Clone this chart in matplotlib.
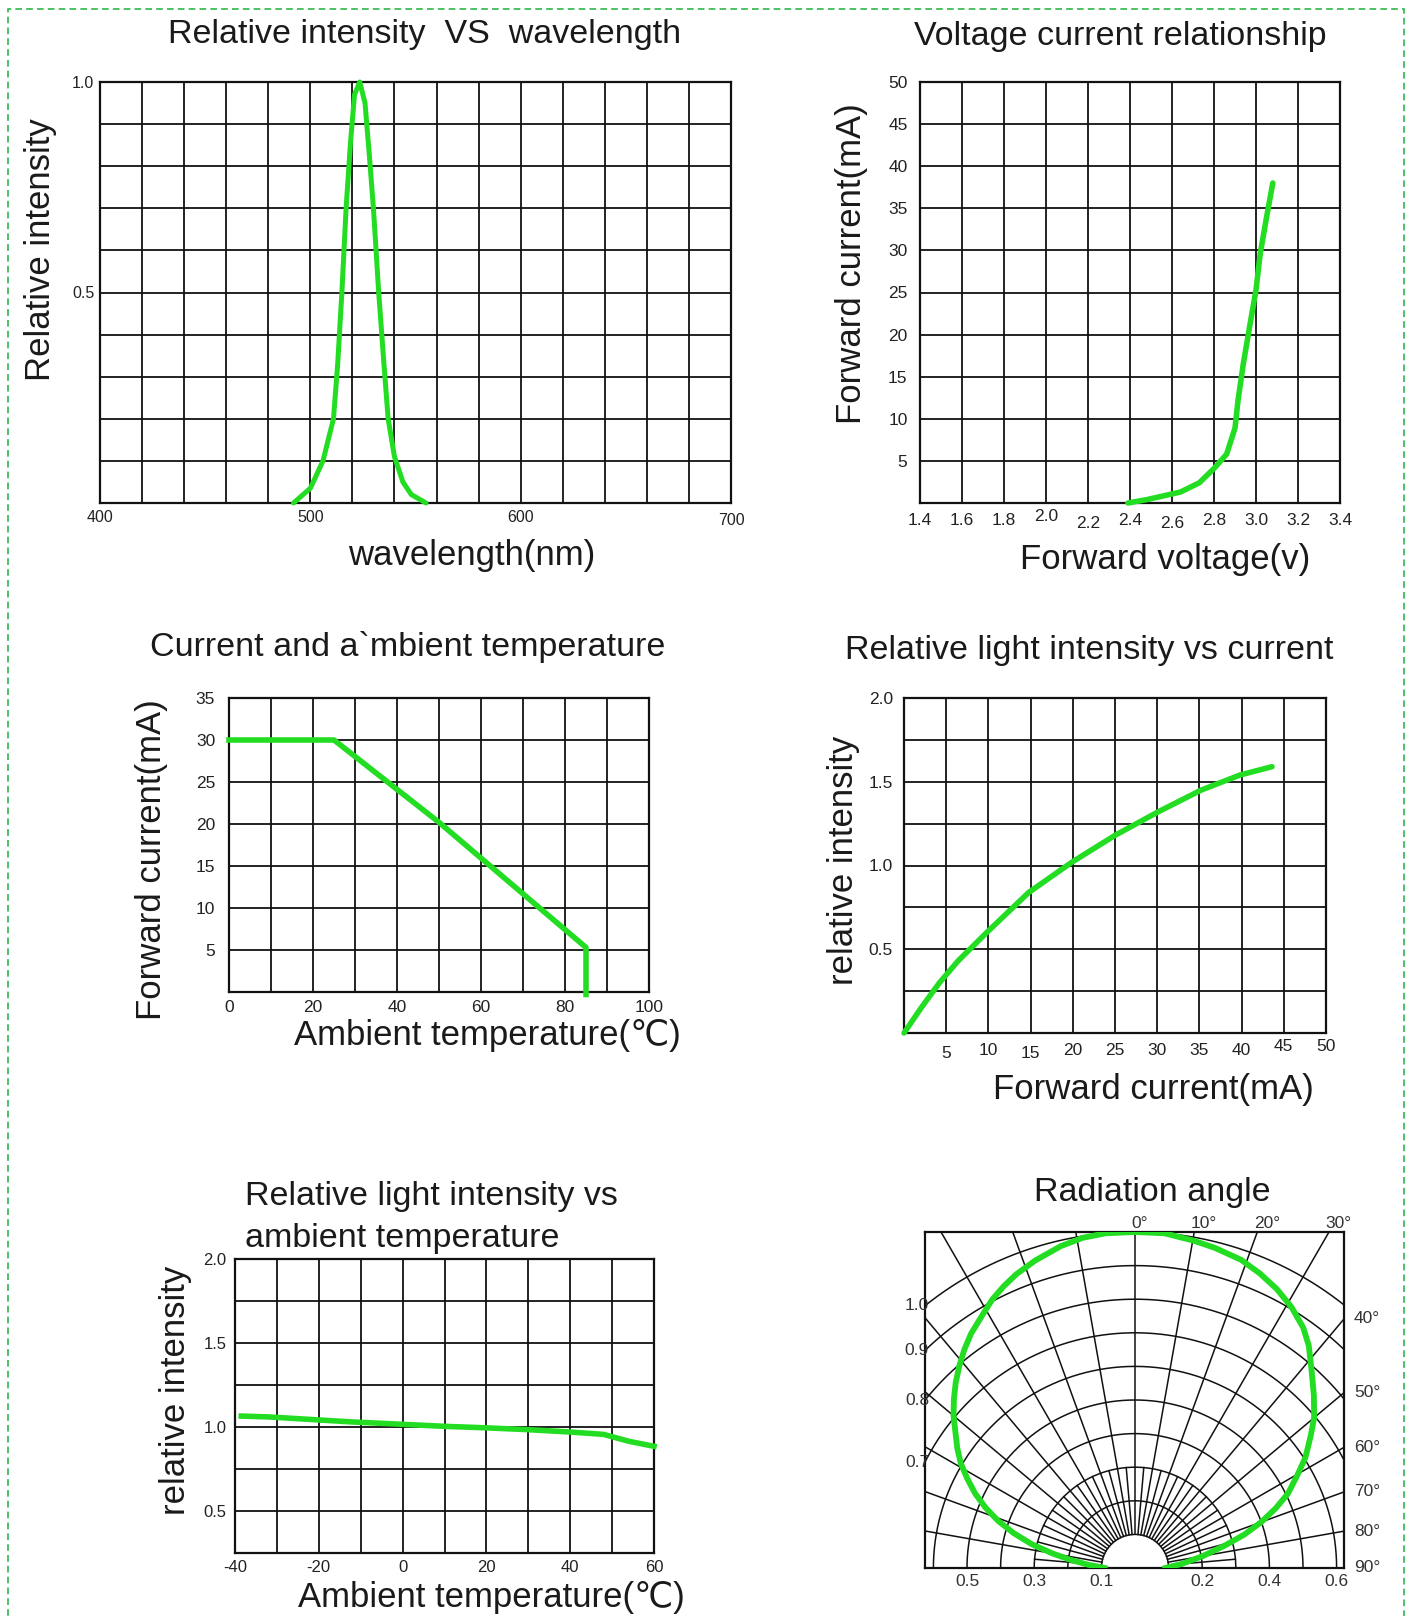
import numpy as np
import matplotlib
matplotlib.use("Agg")
import matplotlib.pyplot as plt
from matplotlib.patches import Rectangle
from matplotlib.transforms import ScaledTranslation

plt.rcParams['font.family'] = ['Liberation Sans', 'DejaVu Sans', 'Noto Sans CJK SC']

# ---------------- data ----------------
# Panel 1: relative intensity vs wavelength
wl_nm = [492, 500, 506, 511, 513, 515, 517, 519, 521, 523.5, 526, 528, 530, 532.5, 535, 537, 540, 544, 548, 555]
wl_int = [0.0, 0.035, 0.10, 0.20, 0.33, 0.50, 0.70, 0.85, 0.97, 1.0, 0.95, 0.83, 0.70, 0.50, 0.33, 0.20, 0.11, 0.05, 0.02, 0.0]

# Panel 2: forward voltage vs forward current
vf_v = [2.39, 2.48, 2.64, 2.73, 2.80, 2.86, 2.90, 2.915, 2.94, 2.97, 3.00, 3.02, 3.05, 3.08]
vf_ma = [0.0, 0.4, 1.3, 2.4, 4.1, 5.8, 8.9, 12.3, 16.6, 21.0, 25.3, 29.6, 33.9, 38.0]

# Panel 3: derating current vs ambient temperature
der_t = [0, 25, 50, 85, 85]
der_ma = [30.0, 30.0, 20.2, 5.3, -0.3]

# Panel 4: relative intensity vs forward current
ic_ma = [0, 2.1, 4.2, 6.4, 9.8, 14.8, 19.9, 25.0, 30.1, 35.2, 39.8, 43.6]
ic_rel = [0.0, 0.155, 0.30, 0.43, 0.60, 0.84, 1.02, 1.18, 1.32, 1.45, 1.54, 1.59]

# Panel 5: relative intensity vs ambient temperature
it_t = [-38.5, -32, -22, -12, 0, 10, 20, 30, 40, 48, 54, 60]
it_rel = [1.065, 1.06, 1.045, 1.03, 1.016, 1.004, 0.995, 0.984, 0.97, 0.956, 0.915, 0.885]

# Panel 6: radiation pattern (angle deg, relative intensity)
rad_deg = [-90, -86, -83, -80, -77, -74, -71, -68, -65, -62, -59, -56, -53, -50, -47, -44, -41, -38,
           -35, -31, -28, -25, -22, -18, -13, -9, -5, 0,
           5, 10, 14, 19, 23, 27, 31, 35, 38, 42, 46, 50, 53, 57, 60, 64, 67, 70, 73, 76, 80, 85, 90]
rad_rel = [0.09, 0.14, 0.19, 0.25, 0.316, 0.375, 0.431, 0.48, 0.525, 0.565, 0.605, 0.638, 0.669, 0.705,
           0.737, 0.768, 0.797, 0.825, 0.851, 0.88, 0.905, 0.925, 0.943, 0.962, 0.983, 0.995, 1.0, 1.0,
           1.0, 0.99, 0.982, 0.97, 0.952, 0.931, 0.905, 0.873, 0.84, 0.786, 0.74, 0.696, 0.655, 0.605,
           0.56, 0.507, 0.455, 0.40, 0.34, 0.275, 0.205, 0.14, 0.09]
rad_rings = [0.1, 0.2, 0.3, 0.4, 0.5, 0.6, 0.7, 0.8, 0.9, 1.0]
rad_left_labels = ['1.0', '0.9', '0.8', '0.7']
rad_left_vals = [1.0, 0.9, 0.8, 0.7]
rad_right_angles = [40, 50, 60, 70, 80, 90]
rad_top_angles = [0, 10, 20, 30]
rad_bottom_vals = [-0.5, -0.3, -0.1, 0.2, 0.4, 0.6]
rad_bottom_labels = ['0.5', '0.3', '0.1', '0.2', '0.4', '0.6']

# ---------------- style ----------------
W, H = 1410, 1616
fig = plt.figure(figsize=(W / 100, H / 100), dpi=100)
GREEN = '#22dd22'
GRIDC = '#111111'
TXT = '#1a1a1a'
TITLE_FS = 24.5
LABEL_FS = 25


def add_ax(l, t, r, b):
    return fig.add_axes([l / W, 1 - b / H, (r - l) / W, (b - t) / H])


def ftext(x, y, s, **kw):
    fig.text(x / W, 1 - y / H, s, color=TXT, **kw)


def style(ax, xgrid, ygrid, tick_fs, xpad, ypad):
    ax.set_xticks(xgrid, minor=True)
    ax.set_yticks(ygrid, minor=True)
    ax.grid(True, which='both', color=GRIDC, lw=1.3)
    ax.set_axisbelow(True)
    ax.tick_params(which='both', length=0, labelsize=tick_fs, labelcolor='#222')
    ax.tick_params(axis='x', pad=xpad)
    ax.tick_params(axis='y', pad=ypad)
    for s in ax.spines.values():
        s.set_linewidth(1.6)
        s.set_color(GRIDC)


def shift_labels(ax, dys):
    for lbl, dy in zip(ax.get_xticklabels(), dys):
        lbl.set_transform(lbl.get_transform() + ScaledTranslation(0, dy / 72, fig.dpi_scale_trans))


# ---------------- Panel 1 ----------------
ax1 = add_ax(100, 82, 731, 503)
ax1.set_xlim(400, 700)
ax1.set_ylim(0, 1.0)
style(ax1, np.arange(400, 701, 20), np.arange(0, 1.01, 0.1), 11.5, 5, 4)
ax1.set_xticks([400, 500, 600, 700])
ax1.set_xticklabels(['400', '500', '600', '700'])
ax1.set_yticks([0.5, 1.0])
ax1.set_yticklabels(['0.5', '1.0'])
shift_labels(ax1, [0, 0, 0, -2])
ax1.plot(wl_nm, wl_int, color=GREEN, lw=3.6, solid_capstyle='round', clip_on=False, zorder=5)
ftext(425, 34, 'Relative intensity  VS  wavelength', fontsize=TITLE_FS, ha='center', va='center')
ftext(41, 250, 'Relative intensity', fontsize=LABEL_FS, ha='center', va='center', rotation=90)
ftext(472, 556, 'wavelength(nm)', fontsize=LABEL_FS, ha='center', va='center')

# ---------------- Panel 2 ----------------
ax2 = add_ax(920, 82, 1340, 503)
ax2.set_xlim(1.4, 3.4)
ax2.set_ylim(0, 50)
style(ax2, np.arange(1.4, 3.41, 0.2), np.arange(0, 51, 5), 12.5, 7, 9)
xt2 = [1.4, 1.6, 1.8, 2.0, 2.2, 2.4, 2.6, 2.8, 3.0, 3.2, 3.4]
ax2.set_xticks(xt2)
ax2.set_xticklabels(['1.4', '1.6', '1.8', '2.0', '2.2', '2.4', '2.6', '2.8', '3.0', '3.2', '3.4'])
ax2.set_yticks(np.arange(5, 51, 5))
ax2.set_yticklabels([str(v) for v in range(5, 51, 5)])
shift_labels(ax2, [0, 0, 0, 3, -2, 0, -2, 0, 0, 0, 0])
ax2.plot(vf_v, vf_ma, color=GREEN, lw=4, solid_capstyle='round', clip_on=False, zorder=5)
ftext(1120, 36, 'Voltage current relationship', fontsize=TITLE_FS, ha='center', va='center')
ftext(851, 264, 'Forward current(mA)', fontsize=LABEL_FS, ha='center', va='center', rotation=90)
ftext(1165, 560, 'Forward voltage(v)', fontsize=LABEL_FS, ha='center', va='center')

# ---------------- Panel 3 ----------------
ax3 = add_ax(229, 698, 649, 992)
ax3.set_xlim(0, 100)
ax3.set_ylim(0, 35)
style(ax3, np.arange(0, 101, 10), np.arange(0, 36, 5), 12.5, 6, 10)
ax3.set_xticks(np.arange(0, 101, 20))
ax3.set_xticklabels([str(v) for v in range(0, 101, 20)])
ax3.set_yticks(np.arange(5, 36, 5))
ax3.set_yticklabels([str(v) for v in range(5, 36, 5)])
ax3.plot(der_t, der_ma, color=GREEN, lw=4, clip_on=False, zorder=5)
ftext(408, 647, 'Current and a`mbient temperature', fontsize=TITLE_FS, ha='center', va='center')
ftext(152, 860, 'Forward current(mA)', fontsize=LABEL_FS, ha='center', va='center', rotation=90)
ftext(487, 1036, 'Ambient temperature(\u2103)', fontsize=LABEL_FS, ha='center', va='center')

# ---------------- Panel 4 ----------------
ax4 = add_ax(904, 698, 1326, 1033)
ax4.set_xlim(0, 50)
ax4.set_ylim(0, 2.0)
style(ax4, np.arange(0, 51, 5), np.arange(0, 2.01, 0.25), 12.5, 7, 8)
ax4.set_xticks(np.arange(5, 51, 5))
ax4.set_xticklabels([str(v) for v in range(5, 51, 5)])
ax4.set_yticks([0.5, 1.0, 1.5, 2.0])
ax4.set_yticklabels(['0.5', '1.0', '1.5', '2.0'])
shift_labels(ax4, [-2, 0, -2, 0, 0, 0, 0, 0, 3, 3])
ax4.plot(ic_ma, ic_rel, color=GREEN, lw=4, solid_capstyle='round', clip_on=False, zorder=5)
ftext(1089, 651, 'Relative light intensity vs current', fontsize=TITLE_FS, ha='center', va='center')
ftext(843, 860, 'relative intensity', fontsize=LABEL_FS, ha='center', va='center', rotation=90)
ftext(1153, 1089, 'Forward current(mA)', fontsize=LABEL_FS, ha='center', va='center')

# ---------------- Panel 5 ----------------
ax5 = add_ax(235, 1259, 654, 1553)
ax5.set_xlim(-40, 60)
ax5.set_ylim(0.25, 2.0)
style(ax5, np.arange(-40, 61, 10), np.arange(0.25, 2.01, 0.25), 12, 5, 6)
ax5.set_xticks(np.arange(-40, 61, 20))
ax5.set_xticklabels([str(v) for v in range(-40, 61, 20)])
ax5.set_yticks([0.5, 1.0, 1.5, 2.0])
ax5.set_yticklabels(['0.5', '1.0', '1.5', '2.0'])
ax5.plot(it_t, it_rel, color=GREEN, lw=4, clip_on=False, zorder=5)
ftext(245, 1197, 'Relative light intensity vs', fontsize=TITLE_FS, ha='left', va='center')
ftext(245, 1239, 'ambient temperature', fontsize=TITLE_FS, ha='left', va='center')
ftext(175, 1390, 'relative intensity', fontsize=LABEL_FS, ha='center', va='center', rotation=90)
ftext(491, 1598, 'Ambient temperature(\u2103)', fontsize=LABEL_FS, ha='center', va='center')

# ---------------- Panel 6: radiation angle ----------------
ax6 = add_ax(925, 1232, 1344, 1568)
XL, XR = -0.625, 0.622
ax6.set_xlim(XL, XR)
ax6.set_ylim(0, 1.0)
ax6.set_xticks([])
ax6.set_yticks([])
for s in ax6.spines.values():
    s.set_linewidth(1.6)
    s.set_color(GRIDC)
th = np.linspace(-np.pi / 2, np.pi / 2, 721)
for r in rad_rings:
    ax6.plot(r * np.sin(th), r * np.cos(th), color=GRIDC, lw=1.1)
for a in range(-90, 91, 10):
    t = np.radians(a)
    ax6.plot([0.1 * np.sin(t), 1.4 * np.sin(t)], [0.1 * np.cos(t), 1.4 * np.cos(t)], color=GRIDC, lw=1.1)
for a in range(-85, 86, 10):
    t = np.radians(a)
    ax6.plot([0.1 * np.sin(t), 0.3 * np.sin(t)], [0.1 * np.cos(t), 0.3 * np.cos(t)], color=GRIDC, lw=1.1)
rt = np.radians(rad_deg)
rr = np.array(rad_rel)
ax6.plot(rr * np.sin(rt), rr * np.cos(rt), color=GREEN, lw=4.2, zorder=5, solid_joinstyle='round')

for lab, v in zip(rad_left_labels, rad_left_vals):
    yv = np.sqrt(v ** 2 - XL ** 2)
    ax6.text(XL + 0.012, yv, lab, fontsize=12.5, ha='right', va='center', color='#333', clip_on=False)
for a in rad_right_angles:
    yv = XR / np.tan(np.radians(a))
    ax6.text(XR + 0.03, yv, f'{a}\u00b0', fontsize=12.5, ha='left', va='center', color='#333', clip_on=False)
for a in rad_top_angles:
    xv = np.tan(np.radians(a))
    ax6.text(xv - 0.01, 1.004, f'{a}\u00b0', fontsize=12.5, ha='left', va='bottom', color='#333', clip_on=False)
for v, lab in zip(rad_bottom_vals, rad_bottom_labels):
    ax6.text(v, -0.04, lab, fontsize=12.5, ha='center', va='center', color='#333', clip_on=False)
ftext(1152, 1193, 'Radiation angle', fontsize=TITLE_FS, ha='center', va='center')

# dashed outer border
fig.patches.append(Rectangle((8 / W, -0.01), (1404 - 8) / W, 1 - 9 / H + 0.01, transform=fig.transFigure,
                             fill=False, ec='#2db84d', lw=1.2, ls=(0, (4, 2.5))))

fig.savefig('out.png', dpi=100, facecolor='white')
